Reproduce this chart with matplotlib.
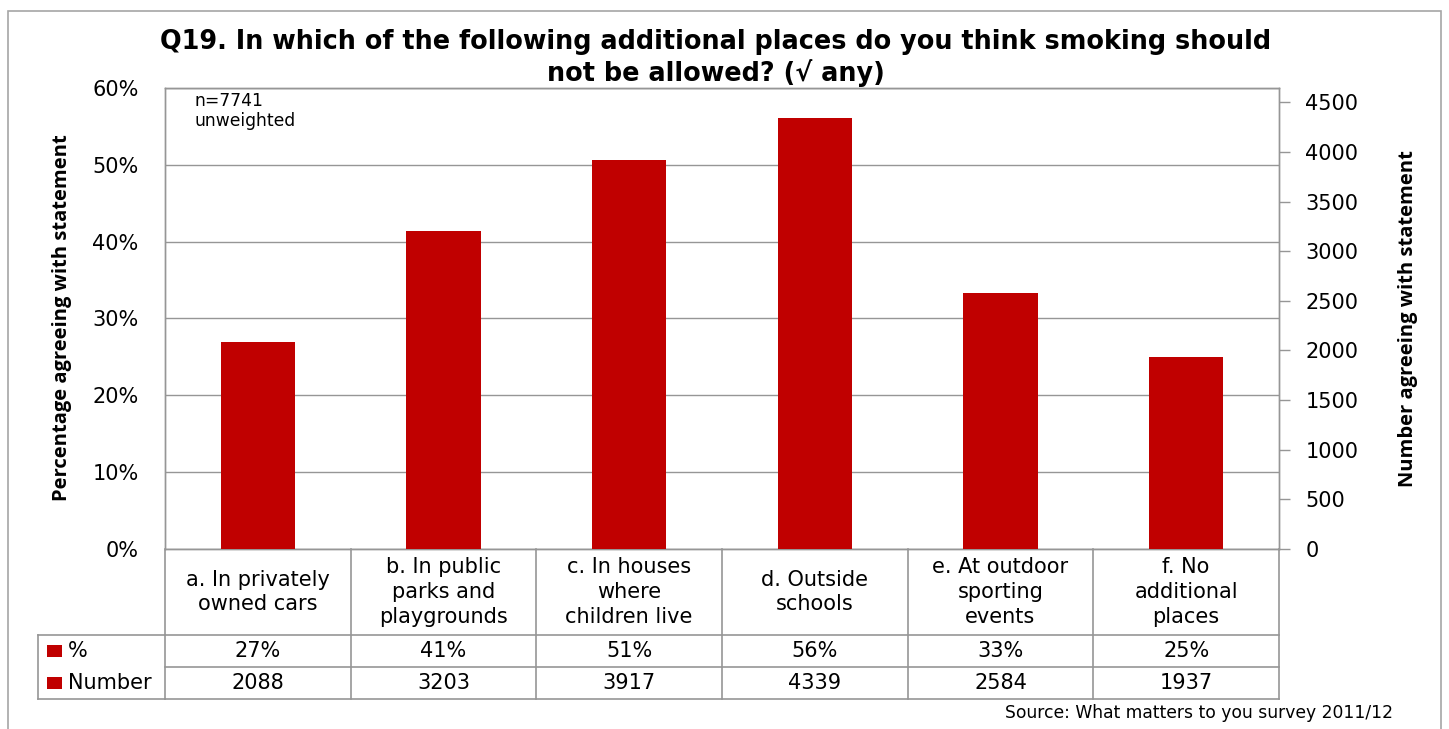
import matplotlib
matplotlib.use("Agg")
import matplotlib.pyplot as plt
import matplotlib.transforms as mtransforms
from matplotlib.patches import Rectangle
from matplotlib.ticker import MultipleLocator, PercentFormatter

plt.rcParams["font.family"] = ["DejaVu Sans"]

# Survey responses
n_respondents = 7741
categories = [
    "a. In privately\nowned cars",
    "b. In public\nparks and\nplaygrounds",
    "c. In houses\nwhere\nchildren live",
    "d. Outside\nschools",
    "e. At outdoor\nsporting\nevents",
    "f. No\nadditional\nplaces",
]
pct_labels = ["27%", "41%", "51%", "56%", "33%", "25%"]
numbers = [2088, 3203, 3917, 4339, 2584, 1937]
row_names = ["%", "Number"]

BAR = "#C00000"
GRID = "#969696"
FRAME = "#a6a6a6"
FS = 15

W, H = 1449, 729
fig = plt.figure(figsize=(W / 100, H / 100), dpi=100)

def fx(px):
    return px / W

def fy(py):
    return 1 - py / H

# outer chart frame
fig.patches.append(Rectangle((fx(8), fy(740)), fx(1441) - fx(8), fy(11) - fy(740),
                             transform=fig.transFigure, fill=False,
                             edgecolor=FRAME, linewidth=1.2, zorder=0))

left, right, top, bottom = 165, 1279, 88, 549
ax = fig.add_axes([fx(left), fy(bottom), fx(right) - fx(left), fy(top) - fy(bottom)])
ax2 = ax.twinx()

x = list(range(len(categories)))
pct_max = 0.60
ax.set_xlim(-0.5, len(categories) - 0.5)
ax.set_ylim(0, pct_max)
ax2.set_ylim(0, pct_max * n_respondents)

ax2.bar(x, numbers, width=0.4, color=BAR, zorder=3)

# left axis: percentages
ax.yaxis.set_major_locator(MultipleLocator(0.1))
ax.yaxis.set_major_formatter(PercentFormatter(1.0, decimals=0))
ax.grid(axis="y", color=GRID, linewidth=1.0)
ax.set_axisbelow(True)
ax.tick_params(axis="y", length=0, pad=19, labelsize=FS)
ax.tick_params(axis="x", length=0, labelbottom=False)

# right axis: counts
ax2.yaxis.set_major_locator(MultipleLocator(500))
ax2.tick_params(axis="y", length=8, width=1.0, color=GRID, pad=11, labelsize=FS)

for a in (ax, ax2):
    for s in a.spines.values():
        s.set_color(GRID)
        s.set_linewidth(1.0)

ylab_font = dict(fontsize=14.5, fontweight="bold", family=["Open Sans", "DejaVu Sans"])
fig.text(fx(62), fy(318), "Percentage agreeing with statement", rotation=90,
         ha="center", va="center", **ylab_font)
fig.text(fx(1408), fy(319), "Number agreeing with statement", rotation=90,
         ha="center", va="center", **ylab_font)

# data table under the plot area
tr = mtransforms.blended_transform_factory(ax.transData, fig.transFigure)
row_y = [bottom, 635, 667, 699]
xl, xr = -0.5, len(categories) - 0.5
line_kw = dict(color=GRID, linewidth=1.2, clip_on=False)

for yy in row_y[1:]:
    ax.plot([xl, xr], [fy(yy)] * 2, transform=tr, **line_kw)
for b in range(len(categories) + 1):
    ax.plot([b - 0.5] * 2, [fy(row_y[0]), fy(row_y[-1])], transform=tr, **line_kw)

# row header column
hx0 = fx(38)
for yy in (row_y[1], row_y[3]):
    fig.lines.append(plt.Line2D([hx0, fx(left)], [fy(yy)] * 2, transform=fig.transFigure,
                                color=GRID, linewidth=1.2))
fig.lines.append(plt.Line2D([hx0, hx0], [fy(row_y[1]), fy(row_y[3])], transform=fig.transFigure,
                            color=GRID, linewidth=1.2))

for i, name in enumerate(row_names):
    yc = (row_y[i + 1] + row_y[i + 2]) / 2
    fig.patches.append(Rectangle((fx(47), fy(yc + 6)), fx(62) - fx(47), fy(yc - 6) - fy(yc + 6),
                                 transform=fig.transFigure, facecolor=BAR, edgecolor="none"))
    fig.text(fx(68), fy(yc), name, ha="left", va="center", fontsize=FS)

for i, cat in enumerate(categories):
    ax.text(i, fy((row_y[0] + row_y[1]) / 2), cat, transform=tr, ha="center", va="center",
            fontsize=FS, linespacing=1.3)
    ax.text(i, fy((row_y[1] + row_y[2]) / 2), pct_labels[i], transform=tr, ha="center",
            va="center", fontsize=FS)
    ax.text(i, fy((row_y[2] + row_y[3]) / 2), f"{numbers[i]}", transform=tr, ha="center",
            va="center", fontsize=FS)

fig.text(fx(716), fy(58),
         "Q19. In which of the following additional places do you think smoking should\n"
         "not be allowed? (\u221a any)",
         ha="center", va="center", fontsize=18.4, fontweight="bold", linespacing=1.15)

fig.text(fx(195), fy(111), "n=7741\nunweighted", ha="left", va="center",
         fontsize=12.3, linespacing=1.1)

fig.text(fx(1393), fy(713), "Source: What matters to you survey 2011/12",
         ha="right", va="center", fontsize=12.3)

fig.savefig("out.png", dpi=100)
